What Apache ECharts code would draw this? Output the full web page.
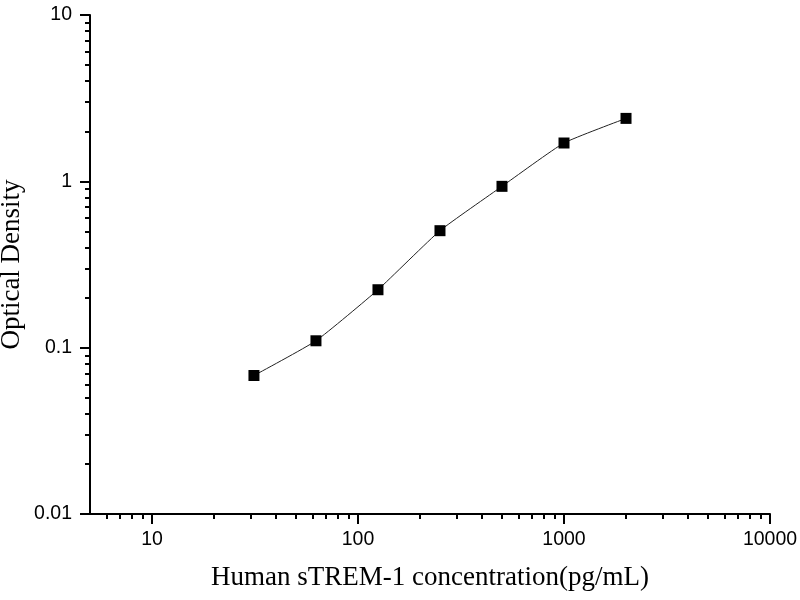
<!DOCTYPE html>
<html>
<head>
    <meta charset="UTF-8">
    <title>sTREM-1 standard curve</title>
    <style type="text/css">
        html, body { margin: 0; padding: 0; background: #fff; }
        #main { width: 800px; height: 600px; }
    </style>
</head>
<body>
<div id="main"></div>
<script type="text/javascript" src="https://cdn.jsdelivr.net/npm/echarts@6/dist/echarts.min.js"></script>
<script type="text/javascript">
    // standard curve data
    var concentration = [31.25, 62.5, 125, 250, 500, 1000, 2000];
    var density = [0.068, 0.110, 0.223, 0.505, 0.933, 1.70, 2.39];

    var xMajor = [10, 100, 1000, 10000];
    var xMinor = [6, 7, 8, 9, 20, 30, 40, 50, 60, 70, 80, 90, 200, 300, 400, 500, 600, 700, 800, 900,
        2000, 3000, 4000, 5000, 6000, 7000, 8000, 9000];
    var yMajor = [0.01, 0.1, 1, 10];
    var yMinor = [0.02, 0.03, 0.04, 0.05, 0.06, 0.07, 0.08, 0.09, 0.2, 0.3, 0.4, 0.5, 0.6, 0.7, 0.8, 0.9,
        2, 3, 4, 5, 6, 7, 8, 9];

    var points = [];
    for (var i = 0; i < concentration.length; i++) {
        points.push([concentration[i], density[i]]);
    }

    var black = '#000';
    var plain = function (v) { return String(v); };
    var labelFont = {color: black, fontSize: 19.5, fontFamily: 'Liberation Sans', formatter: plain};
    var nameFont = {color: black, fontSize: 27, fontFamily: 'Liberation Serif'};

    var myChart = echarts.init(document.getElementById('main'));
    var option = {
        animation: false,
        grid: {left: 90, right: 30, top: 15, bottom: 86, containLabel: false, outerBoundsMode: 'none'},
        xAxis: [{
            type: 'log', logBase: 10, min: 5, max: 10000,
            name: 'Human sTREM-1 concentration(pg/mL)',
            nameLocation: 'middle', nameGap: 50, nameTextStyle: nameFont, nameMoveOverlap: false,
            axisLine: {lineStyle: {color: black, width: 2}},
            axisTick: {inside: false, length: 10, lineStyle: {color: black, width: 2}, customValues: xMajor},
            axisLabel: Object.assign({margin: 16, customValues: xMajor}, labelFont),
            splitLine: {show: false}, minorTick: {show: false}
        }, {
            type: 'log', logBase: 10, min: 5, max: 10000, position: 'bottom',
            axisLine: {show: false},
            axisTick: {inside: false, length: 5, lineStyle: {color: black, width: 2}, customValues: xMinor},
            axisLabel: {show: false},
            splitLine: {show: false}
        }],
        yAxis: [{
            type: 'log', logBase: 10, min: 0.01, max: 10,
            name: 'Optical Density',
            nameLocation: 'middle', nameGap: 65, nameTextStyle: nameFont, nameMoveOverlap: false,
            axisLine: {lineStyle: {color: black, width: 2}},
            axisTick: {inside: false, length: 10, lineStyle: {color: black, width: 2}, customValues: yMajor},
            axisLabel: Object.assign({margin: 18, customValues: yMajor}, labelFont),
            splitLine: {show: false}
        }, {
            type: 'log', logBase: 10, min: 0.01, max: 10, position: 'left',
            axisLine: {show: false},
            axisTick: {inside: false, length: 5, lineStyle: {color: black, width: 2}, customValues: yMinor},
            axisLabel: {show: false},
            splitLine: {show: false}
        }],
        series: [{
            type: 'line',
            data: points,
            smooth: 0.15,
            symbol: 'rect',
            symbolSize: 11,
            itemStyle: {color: black},
            lineStyle: {color: '#222', width: 1}
        }]
    };
    myChart.setOption(option);
</script>
</body>
</html>
